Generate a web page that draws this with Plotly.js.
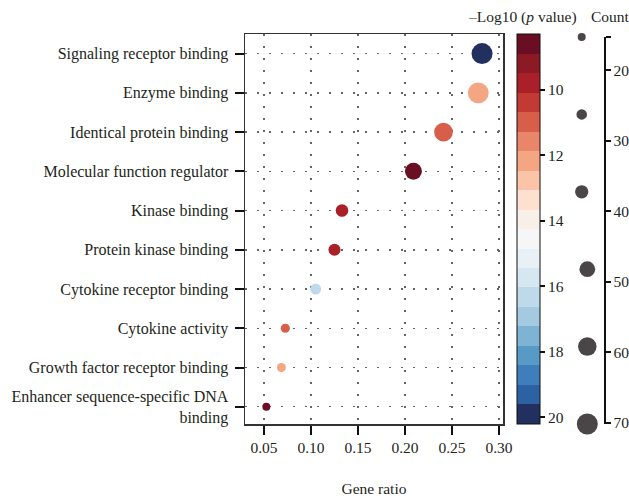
<!DOCTYPE html>
<html><head><meta charset="utf-8">
<script src="https://cdn.plot.ly/plotly-3.0.1.min.js"></script>
<style>body{margin:0;background:#fff}</style>
</head><body><div id="chart" style="width:629px;height:498px"></div>
<script>
const categories = ["Signaling receptor binding","Enzyme binding","Identical protein binding","Molecular function regulator","Kinase binding","Protein kinase binding","Cytokine receptor binding","Cytokine activity","Growth factor receptor binding","Enhancer sequence-specific DNA<br>binding"];
const geneRatio = [0.282,0.278,0.241,0.209,0.133,0.125,0.105,0.0727,0.0685,0.0525];
const counts = [70,69,60,52,33,31,26,18,17,13];
const negLog10P = [20.1,12.3,11.0,8.6,9.8,9.9,16.4,11.2,12.2,8.5];
const xTicks = [0.05,0.10,0.15,0.20,0.25,0.30];
const cbTicks = [10,12,14,16,18,20];
const countTicks = [20,30,40,50,60,70];
const legendCounts = [13,24,36,47,59,70];
const legendCol = [0,0,0,1,1,1];
const legendRow = [0,1,2,3,4,5];
// colour bands, top (low -log10 p) to bottom (high -log10 p)
const bandColors = ["#6a0f23","#8c1a24","#aa2028","#c23a34","#d85e4c","#e9856a","#f4a582","#fbc4a8","#fde0d0","#f9efe9","#f6f6f6","#eaf1f6","#d6e7f2","#bed9ea","#a4cae1","#7eb3d4","#589ac6","#3e7fbb","#2c62a4","#21305e"];

const FONT = "Liberation Serif, Times New Roman, serif";
const TXT = "#231f20";
const FS = 15.5;
const sizeOf = c => 8 + (c - 13) * 13 / 57;

// colorbar runs 10 at top -> 20 at bottom: use negated values
const rev = bandColors.slice().reverse();
const cs = [];
rev.forEach((c, i) => {
  cs.push([i / rev.length, c]);
  cs.push([(i + 1) / rev.length, c]);
});

const W = 629, H = 498, L = 245, R = 20, T = 34, B = 74;
const pw = W - L - R, ph = H - T - B;
const px = v => (v - L) / pw;

const main = {
  type: "scatter", mode: "markers",
  x: geneRatio, y: categories,
  xaxis: "x", yaxis: "y",
  cliponaxis: false,
  marker: {
    size: counts.map(sizeOf), sizemode: "diameter",
    color: negLog10P.map(v => -v), colorscale: cs, cmin: -20.21, cmax: -8.29,
    line: {width: 0}, opacity: 1,
    showscale: true,
    colorbar: {
      x: px(517), xanchor: "left", xpad: 0, ypad: 0,
      y: 0.5, yanchor: "middle",
      thickness: 23, thicknessmode: "pixels",
      len: ph, lenmode: "pixels",
      outlinewidth: 1, outlinecolor: "#111",
      tickmode: "array", tickvals: cbTicks.map(v => -v), ticktext: cbTicks.map(String),
      ticks: "outside", ticklen: 5, tickwidth: 2, tickcolor: "#111",
      tickfont: {family: FONT, size: FS, color: TXT}
    }
  },
  hoverinfo: "x+y"
};

const countTop = 15.3;
const countBottom = 70.14;

// empty trace so the count-axis subplot is created
const countAxisTrace = {
  type: "scatter", mode: "markers", x: [null], y: [null],
  xaxis: "x2", yaxis: "y2", hoverinfo: "skip", showlegend: false
};

const legendTrace = {
  type: "scatter", mode: "markers",
  x: legendCol, y: legendRow,
  xaxis: "x2", yaxis: "y3",
  cliponaxis: false,
  marker: {size: legendCounts.map(sizeOf), sizemode: "diameter", color: "#4a4546", opacity: 1, line: {width: 0}},
  hoverinfo: "skip"
};

const layout = {
  width: W, height: H,
  margin: {l: L, r: R, t: T, b: B},
  paper_bgcolor: "#fff", plot_bgcolor: "#fff",
  showlegend: false,
  font: {family: FONT, size: FS, color: TXT},
  xaxis: {
    domain: [0, px(503)], range: [0.0298, 0.3043],
    tickmode: "array", tickvals: xTicks, ticktext: xTicks.map(v => v.toFixed(2)),
    ticks: "outside", ticklen: 9, tickwidth: 2, tickcolor: "#111",
    showline: true, mirror: true, linecolor: "#333", linewidth: 1.5,
    showgrid: true, gridcolor: "#666", gridwidth: 1.5, griddash: "1.5px,10.5px",
    zeroline: false,
    tickfont: {family: FONT, size: FS, color: TXT},
    title: {text: "Gene ratio", standoff: 28, font: {family: FONT, size: FS, color: TXT}}
  },
  yaxis: {
    domain: [0, 1],
    type: "category", categoryorder: "array", categoryarray: categories,
    range: [9.44, -0.5],
    ticks: "outside", ticklen: 9, tickwidth: 2, tickcolor: "#111",
    ticklabelstandoff: 3,
    showline: true, mirror: true, linecolor: "#333", linewidth: 1.5,
    showgrid: true, gridcolor: "#666", gridwidth: 1.5, griddash: "1.5px,10.5px",
    zeroline: false,
    tickfont: {family: FONT, size: 16, color: TXT}
  },
  xaxis2: {
    domain: [px(570), px(604)], range: [-2.09, 3.98], anchor: "y2",
    showline: false, showgrid: false, zeroline: false, showticklabels: false, ticks: "",
    fixedrange: true
  },
  yaxis2: {
    domain: [0, (424 - 37) / ph], anchor: "x2", side: "right",
    range: [countBottom, countTop],
    tickmode: "array", tickvals: [countTop].concat(countTicks), ticktext: [""].concat(countTicks.map(String)),
    ticks: "outside", ticklen: 5, tickwidth: 2, tickcolor: "#111",
    showline: true, linecolor: "#111", linewidth: 1.5,
    showgrid: false, zeroline: false,
    tickfont: {family: FONT, size: FS, color: TXT}
  },
  yaxis3: {
    overlaying: "y2", anchor: "x2", range: [5, 0],
    showline: false, showgrid: false, zeroline: false, showticklabels: false, ticks: ""
  },
  annotations: [
    {xref: "paper", yref: "paper", x: px(579), y: 1 + (34 - 17) / ph, xanchor: "right", yanchor: "middle",
     text: "\u2013Log10 (<i>p</i> value)", showarrow: false, font: {family: FONT, size: FS, color: TXT}},
    {xref: "paper", yref: "paper", x: px(589), y: 1 + (34 - 17) / ph, xanchor: "left", yanchor: "middle",
     text: "Count", showarrow: false, font: {family: FONT, size: FS, color: TXT}}
  ]
};

Plotly.newPlot("chart", [main, countAxisTrace, legendTrace], layout, {displayModeBar: false, staticPlot: true});
</script>
</body></html>
